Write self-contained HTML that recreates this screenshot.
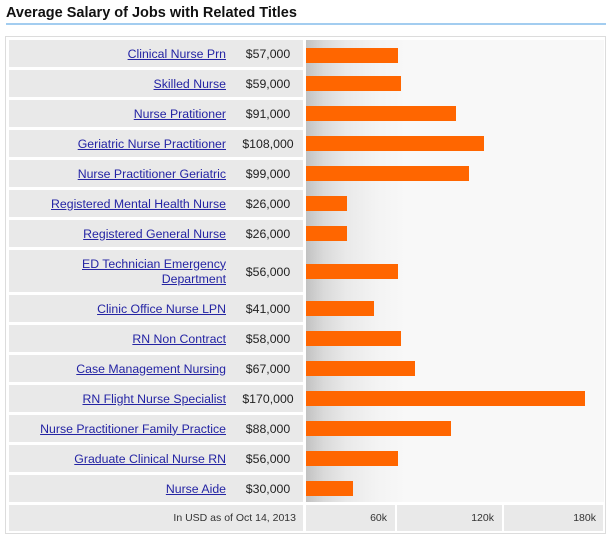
<!DOCTYPE html>
<html>
<head>
<meta charset="utf-8">
<style>
  html,body{margin:0;padding:0;background:#fff;}
  body{width:612px;height:540px;position:relative;overflow:hidden;font-family:"Liberation Sans",Arial,sans-serif;}
  .title{position:absolute;left:6px;top:4px;font-size:14.5px;font-weight:bold;color:#111;white-space:nowrap;line-height:18px;}
  .uline{position:absolute;left:6px;top:23px;width:600px;height:2px;background:#a3cdf0;}
  .box{position:absolute;left:5px;top:36px;width:599px;height:496px;border:1px solid #dcdcdc;}
  .cell{position:absolute;left:9px;width:294px;background:#e9e9e9;}
  .lab{position:absolute;right:77px;top:1px;bottom:0;display:flex;align-items:center;justify-content:flex-end;text-align:right;font-size:12.3px;line-height:15px;}
  .lab a{color:#2424a4;text-decoration:underline;}
  .sal{position:absolute;left:217px;width:84px;top:1px;bottom:0;display:flex;align-items:center;justify-content:center;font-size:12.3px;color:#222;}
  .chart{position:absolute;left:306px;top:40px;width:298px;height:462px;background:linear-gradient(to right,#c2c2c2 0px,#dadada 18px,#e9e9e9 40px,#f3f3f3 70px,#f8f8f8 100px);}
  .bar{position:absolute;left:306px;height:15px;background:#ff6600;}
  .foot{position:absolute;top:505px;height:26px;background:#e9e9e9;font-size:10.5px;color:#333;display:flex;align-items:center;justify-content:flex-end;}
</style>
</head>
<body>
<div class="title">Average Salary of Jobs with Related Titles</div>
<div class="uline"></div>
<div class="box"></div>
<div class="chart"></div>

<div class="cell" style="top:40px;height:27px"><div class="lab"><a>Clinical Nurse Prn</a></div><div class="sal">$57,000</div></div>
<div class="cell" style="top:70px;height:27px"><div class="lab"><a>Skilled Nurse</a></div><div class="sal">$59,000</div></div>
<div class="cell" style="top:100px;height:27px"><div class="lab"><a>Nurse Pratitioner</a></div><div class="sal">$91,000</div></div>
<div class="cell" style="top:130px;height:27px"><div class="lab"><a>Geriatric Nurse Practitioner</a></div><div class="sal">$108,000</div></div>
<div class="cell" style="top:160px;height:27px"><div class="lab"><a>Nurse Practitioner Geriatric</a></div><div class="sal">$99,000</div></div>
<div class="cell" style="top:190px;height:27px"><div class="lab"><a>Registered Mental Health Nurse</a></div><div class="sal">$26,000</div></div>
<div class="cell" style="top:220px;height:27px"><div class="lab"><a>Registered General Nurse</a></div><div class="sal">$26,000</div></div>
<div class="cell" style="top:250px;height:42px"><div class="lab"><a>ED Technician Emergency<br>Department</a></div><div class="sal">$56,000</div></div>
<div class="cell" style="top:295px;height:27px"><div class="lab"><a>Clinic Office Nurse LPN</a></div><div class="sal">$41,000</div></div>
<div class="cell" style="top:325px;height:27px"><div class="lab"><a>RN Non Contract</a></div><div class="sal">$58,000</div></div>
<div class="cell" style="top:355px;height:27px"><div class="lab"><a>Case Management Nursing</a></div><div class="sal">$67,000</div></div>
<div class="cell" style="top:385px;height:27px"><div class="lab"><a>RN Flight Nurse Specialist</a></div><div class="sal">$170,000</div></div>
<div class="cell" style="top:415px;height:27px"><div class="lab"><a>Nurse Practitioner Family Practice</a></div><div class="sal">$88,000</div></div>
<div class="cell" style="top:445px;height:27px"><div class="lab"><a>Graduate Clinical Nurse RN</a></div><div class="sal">$56,000</div></div>
<div class="cell" style="top:475px;height:27px"><div class="lab"><a>Nurse Aide</a></div><div class="sal">$30,000</div></div>

<div class="bar" style="top:48px;width:92px"></div>
<div class="bar" style="top:76px;width:95px"></div>
<div class="bar" style="top:106px;width:150px"></div>
<div class="bar" style="top:136px;width:178px"></div>
<div class="bar" style="top:166px;width:163px"></div>
<div class="bar" style="top:196px;width:41px"></div>
<div class="bar" style="top:226px;width:41px"></div>
<div class="bar" style="top:264px;width:92px"></div>
<div class="bar" style="top:301px;width:68px"></div>
<div class="bar" style="top:331px;width:95px"></div>
<div class="bar" style="top:361px;width:109px"></div>
<div class="bar" style="top:391px;width:279px"></div>
<div class="bar" style="top:421px;width:145px"></div>
<div class="bar" style="top:451px;width:92px"></div>
<div class="bar" style="top:481px;width:47px"></div>

<div class="foot" style="left:9px;width:287px;padding-right:7px">In USD as of Oct 14, 2013</div>
<div class="foot" style="left:306px;width:81px;padding-right:8px">60k</div>
<div class="foot" style="left:397px;width:97px;padding-right:8px">120k</div>
<div class="foot" style="left:504px;width:92px;padding-right:7px">180k</div>
</body>
</html>
